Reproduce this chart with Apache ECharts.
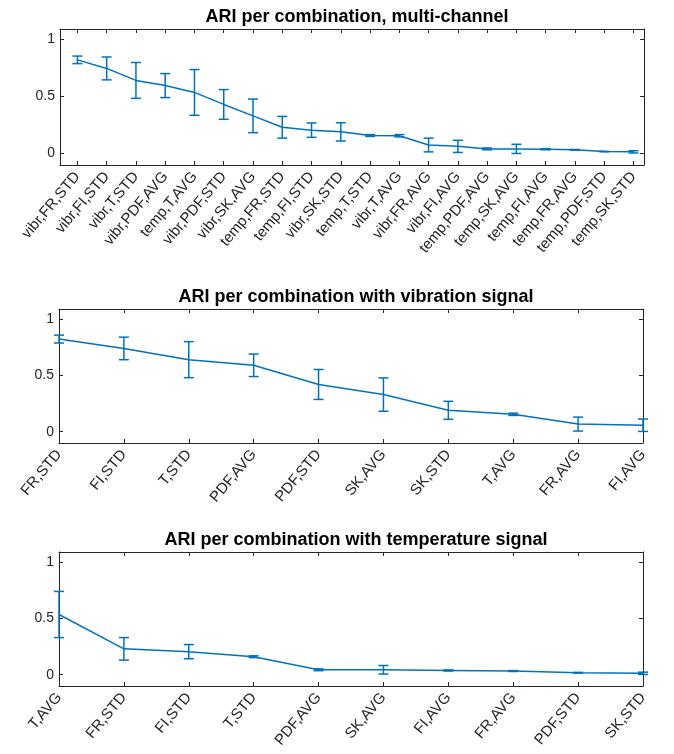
<!DOCTYPE html>
<html>
<head>
<meta charset="utf-8">
<script src="https://cdn.jsdelivr.net/npm/echarts@6/dist/echarts.min.js"></script>
<style>
  html, body { margin: 0; padding: 0; background: #fff; }
  #main { width: 674px; height: 754px; }
</style>
</head>
<body>
<div id="main"></div>
<script>
// multi-channel combinations (signal, feature, statistic)
const catsMulti = ['vibr,FR,STD', 'vibr,FI,STD', 'vibr,T,STD', 'vibr,PDF,AVG', 'temp,T,AVG',
  'vibr,PDF,STD', 'vibr,SK,AVG', 'temp,FR,STD', 'temp,FI,STD', 'vibr,SK,STD',
  'temp,T,STD', 'vibr,T,AVG', 'vibr,FR,AVG', 'vibr,FI,AVG', 'temp,PDF,AVG',
  'temp,SK,AVG', 'temp,FI,AVG', 'temp,FR,AVG', 'temp,PDF,STD', 'temp,SK,STD']
const ariMulti = [0.82, 0.745, 0.64, 0.595, 0.535, 0.43, 0.33, 0.23, 0.205, 0.19,
  0.158, 0.156, 0.075, 0.063, 0.041, 0.041, 0.038, 0.033, 0.018, 0.015]
const errMulti = [0.033, 0.1, 0.157, 0.105, 0.2, 0.13, 0.147, 0.095, 0.063, 0.08,
  0.008, 0.01, 0.06, 0.053, 0.008, 0.04, 0.005, 0.003, 0.002, 0.01]

// vibration signal only
const catsVibr = ['FR,STD', 'FI,STD', 'T,STD', 'PDF,AVG', 'PDF,STD', 'SK,AVG', 'SK,STD', 'T,AVG', 'FR,AVG', 'FI,AVG']
const ariVibr = [0.823, 0.74, 0.64, 0.59, 0.42, 0.33, 0.19, 0.155, 0.068, 0.058]
const errVibr = [0.035, 0.1, 0.16, 0.1, 0.133, 0.148, 0.08, 0.01, 0.062, 0.055]

// temperature signal only
const catsTemp = ['T,AVG', 'FR,STD', 'FI,STD', 'T,STD', 'PDF,AVG', 'SK,AVG', 'FI,AVG', 'FR,AVG', 'PDF,STD', 'SK,STD']
const ariTemp = [0.535, 0.23, 0.205, 0.16, 0.044, 0.044, 0.038, 0.033, 0.018, 0.013]
const errTemp = [0.205, 0.1, 0.063, 0.008, 0.008, 0.038, 0.005, 0.004, 0.003, 0.01]

const yTicks = [0, 0.5, 1]

const titles = ['ARI per combination, multi-channel',
  'ARI per combination with vibration signal',
  'ARI per combination with temperature signal']

const blue = '#0072BD'
const axisColor = '#262626'
const font = 'Liberation Sans, Arial, Helvetica, sans-serif'

const panels = [
  { cats: catsMulti, ari: ariMulti, err: errMulti, xMin: 0.405, xMax: 20.36, top: 29, left: 60, height: 136 },
  { cats: catsVibr, ari: ariVibr, err: errVibr, xMin: 1, xMax: 10, top: 309, left: 59, height: 134 },
  { cats: catsTemp, ari: ariTemp, err: errTemp, xMin: 1, xMax: 10, top: 552, left: 59, height: 134 }
]

const grid = []
const xAxis = []
const yAxis = []
const series = []
const title = []

const errorBar = function(params, api) {
  const x = api.value(0)
  const lo = api.coord([x, api.value(1)])
  const hi = api.coord([x, api.value(2)])
  const w = 5
  const style = { stroke: blue, lineWidth: 1.5 }
  return {
    type: 'group',
    children: [
      { type: 'line', shape: { x1: lo[0], y1: lo[1], x2: hi[0], y2: hi[1] }, style: style },
      { type: 'line', shape: { x1: lo[0] - w, y1: lo[1], x2: lo[0] + w, y2: lo[1] }, style: style },
      { type: 'line', shape: { x1: hi[0] - w, y1: hi[1], x2: hi[0] + w, y2: hi[1] }, style: style }
    ]
  }
}

panels.forEach(function(p, k) {
  const ticks = p.cats.map((c, i) => i + 1)
  grid.push({ left: p.left, top: p.top, width: 584, height: p.height, show: false })
  title.push({
    text: titles[k],
    left: p.left + 292,
    top: p.top - 26,
    textAlign: 'center',
    textStyle: { fontFamily: font, fontSize: 18, fontWeight: 'bold', color: '#000' }
  })
  const lineStyle = { color: axisColor, width: 1 }
  xAxis.push({
    type: 'value', gridIndex: k, position: 'bottom', min: p.xMin, max: p.xMax,
    axisLine: { show: true, onZero: false, lineStyle: lineStyle },
    axisTick: { show: true, inside: true, length: 4, customValues: ticks, lineStyle: lineStyle },
    axisLabel: {
      customValues: ticks, rotate: 50, margin: 9,
      fontFamily: font, fontSize: 15, color: axisColor,
      formatter: v => p.cats[Math.round(v) - 1]
    },
    splitLine: { show: false }
  })
  xAxis.push({
    type: 'value', gridIndex: k, position: 'top', min: p.xMin, max: p.xMax,
    axisLine: { show: true, onZero: false, lineStyle: lineStyle },
    axisTick: { show: true, inside: true, length: 4, customValues: ticks, lineStyle: lineStyle },
    axisLabel: { show: false },
    splitLine: { show: false }
  })
  yAxis.push({
    type: 'value', gridIndex: k, position: 'left', min: -0.1, max: 1.09,
    axisLine: { show: true, onZero: false, lineStyle: lineStyle },
    axisTick: { show: true, inside: true, length: 4, customValues: yTicks, lineStyle: lineStyle },
    axisLabel: { customValues: yTicks, margin: 5, fontFamily: font, fontSize: 14, color: axisColor },
    splitLine: { show: false }
  })
  yAxis.push({
    type: 'value', gridIndex: k, position: 'right', min: -0.1, max: 1.09,
    axisLine: { show: true, onZero: false, lineStyle: lineStyle },
    axisTick: { show: true, inside: true, length: 4, customValues: yTicks, lineStyle: lineStyle },
    axisLabel: { show: false },
    splitLine: { show: false }
  })
  series.push({
    type: 'line', xAxisIndex: 2 * k, yAxisIndex: 2 * k,
    data: p.ari.map((v, i) => [i + 1, v]),
    symbol: 'none', clip: false,
    lineStyle: { color: blue, width: 1.5 },
    silent: true, animation: false
  })
  series.push({
    type: 'custom', xAxisIndex: 2 * k, yAxisIndex: 2 * k,
    data: p.ari.map((v, i) => [i + 1, v - p.err[i], v + p.err[i]]),
    encode: { x: 0, y: [1, 2] },
    renderItem: errorBar, clip: false,
    silent: true, animation: false
  })
})

const chart = echarts.init(document.getElementById('main'), null, { renderer: 'canvas' })
chart.setOption({
  backgroundColor: '#fff',
  animation: false,
  title: title,
  grid: grid,
  xAxis: xAxis,
  yAxis: yAxis,
  series: series
})
</script>
</body>
</html>
